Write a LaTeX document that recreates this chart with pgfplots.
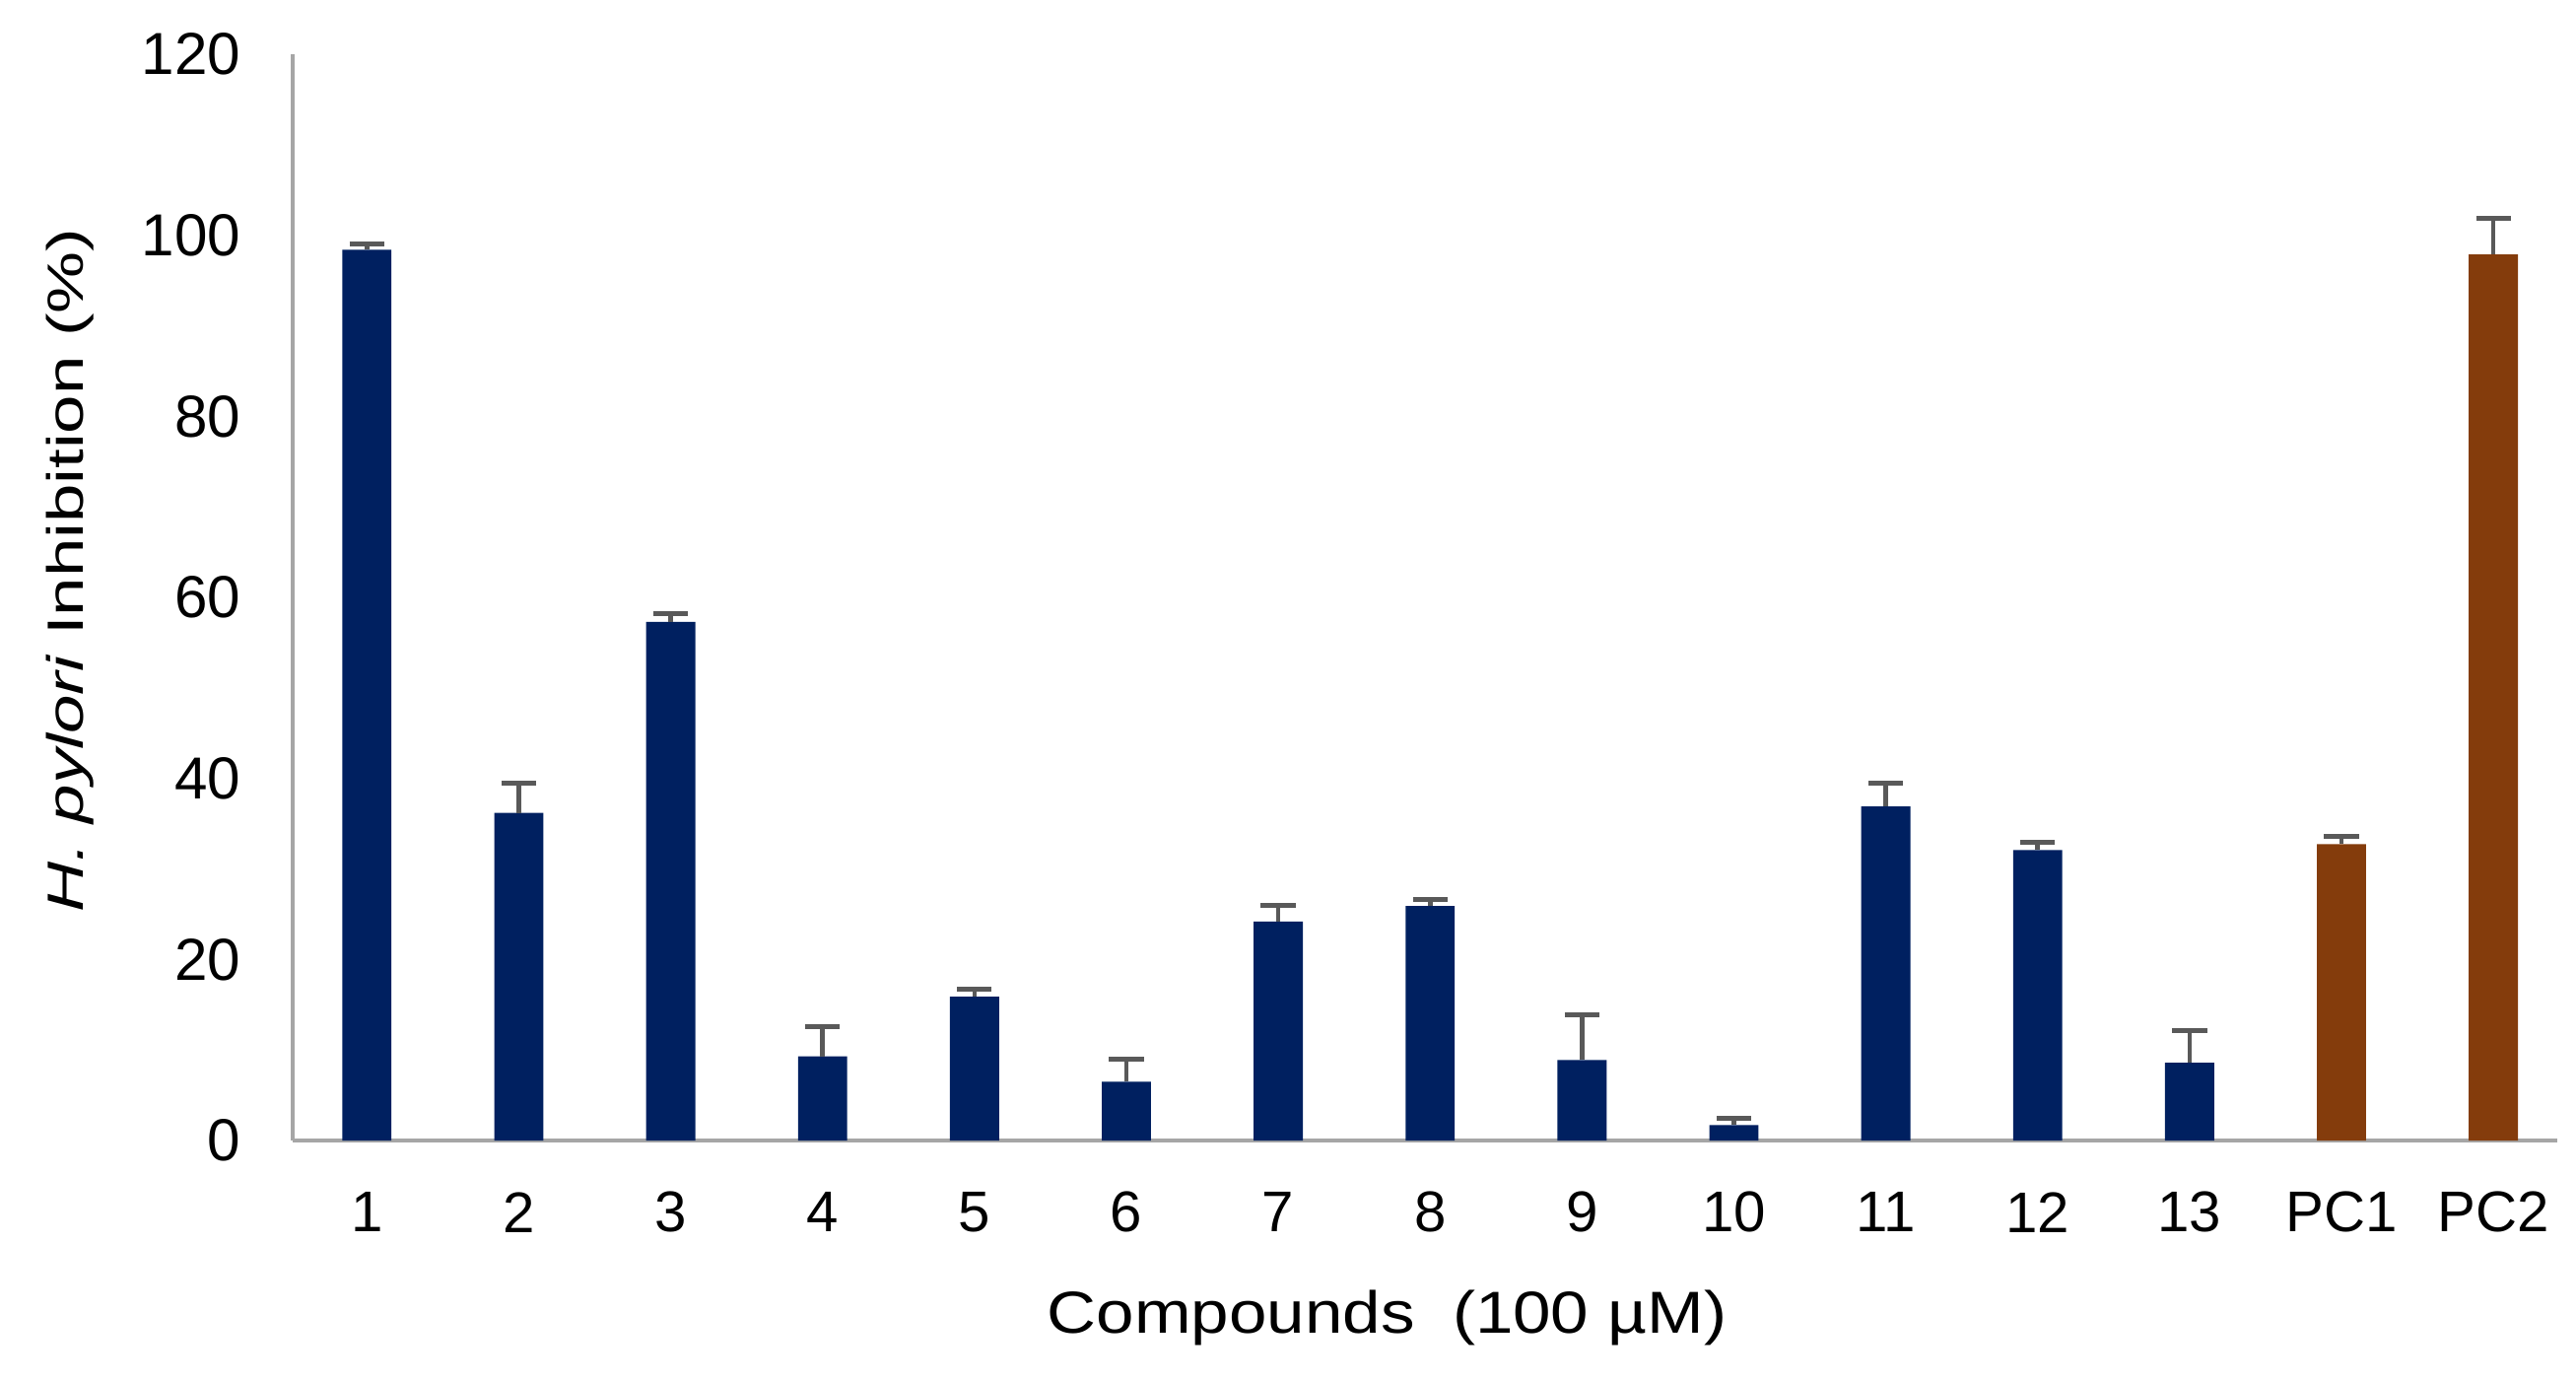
\documentclass[border=0pt]{standalone}
\usepackage{pgfplots}
\pgfplotsset{compat=1.18}
\usepackage{pgfplotstable}
\usepackage{graphicx}
\usepackage{fontspec}
\setmainfont{Liberation Sans}
\usetikzlibrary{calc}
\definecolor{navy}{HTML}{002060}
\definecolor{brown}{HTML}{843C0C}
\definecolor{errgrey}{HTML}{595959}
\definecolor{axgrey}{HTML}{A6A6A6}

\pgfplotstableread{
x y e
0 98.4 0.7
1 36.2 3.3
2 57.3 0.9
3 9.3 3.3
4 15.9 0.8
5 6.5 2.5
6 24.2 1.8
7 25.9 0.7
8 8.9 5.0
9 1.7 0.8
10 36.9 2.6
11 32.1 0.8
12 8.6 3.6
}\compounds
\pgfplotstableread{
x y e
13 32.75 0.85
14 97.9 4.0
}\controls

\begin{document}
\begin{tikzpicture}
\begin{axis}[
  name=ax,
  scale only axis,
  width=600pt, height=287.7pt,
  xmin=-0.49, xmax=14.42,
  ymin=0, ymax=120,
  ytick={0,20,...,120},
  xtick={0,...,14},
  xticklabels={1,2,3,4,5,6,7,8,9,10,11,12,13,PC1,PC2},
  axis x line=bottom, axis y line=left,
  axis line style={-, draw=axgrey, line width=0.9pt},
  major tick length=0pt,
  /pgf/number format/assume math mode=true,
  tick label style={inner sep=0pt},
  yticklabel style={font=\fontsize{15.7}{18}\selectfont, anchor=east, xshift=-13.6pt},
  xticklabel style={font=\fontsize{15.2}{18}\selectfont, anchor=center, yshift=-19pt},
  every axis x label/.style={at={(rel axis cs:0.5,0)}, xshift=-10pt, yshift=-47pt, anchor=center, font=\fontsize{15.7}{18}\selectfont, xscale=1.15},
  every axis y label/.style={at={(rel axis cs:0,0.525)}, xshift=-59pt, rotate=90, anchor=center, font=\fontsize{13.5}{16}\selectfont},
  xlabel={Compounds\ \ (100 µM)},
  ylabel={\scalebox{1.37}[1]{\textit{H. pylori} Inhibition (\%)}},
  ybar, bar width=13pt, bar shift=0pt,
  clip=false,
]
\addplot[fill=navy, draw=none,
  error bars/.cd, y dir=plus, y explicit,
  error bar style={draw=errgrey, line width=1.2pt},
  error mark options={rotate=90, mark size=4.6pt, draw=errgrey, line width=1.3pt}]
  table[x=x, y=y, y error=e] {\compounds};
\addplot[fill=brown, draw=none,
  error bars/.cd, y dir=plus, y explicit,
  error bar style={draw=errgrey, line width=1.2pt},
  error mark options={rotate=90, mark size=4.6pt, draw=errgrey, line width=1.3pt}]
  table[x=x, y=y, y error=e] {\controls};
\end{axis}
\pgfresetboundingbox
\path[use as bounding box] ($(ax.south west)+(-77.5pt,-63.7pt)$) rectangle ($(ax.north east)+(5pt,14.4pt)$);
\end{tikzpicture}
\end{document}
